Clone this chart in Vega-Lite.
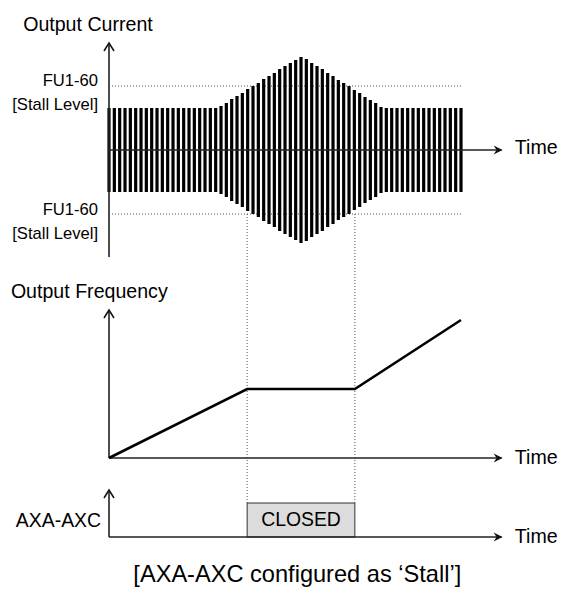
{
  "$schema": "https://vega.github.io/schema/vega-lite/v6.json",
  "width": 561,
  "height": 592,
  "autosize": {"type": "fit", "contains": "padding"},
  "padding": 0,
  "background": "white",
  "config": {"view": {"stroke": null}, "text": {"font": "Liberation Sans"}},
  "datasets": {
    "bars": [
      {"t":0,"hi":108,"lo":192},{"t":1,"hi":108,"lo":192},{"t":2,"hi":108,"lo":192},{"t":3,"hi":108,"lo":192},{"t":4,"hi":108,"lo":192},
      {"t":5,"hi":108,"lo":192},{"t":6,"hi":108,"lo":192},{"t":7,"hi":108,"lo":192},{"t":8,"hi":108,"lo":192},{"t":9,"hi":108,"lo":192},
      {"t":10,"hi":108,"lo":192},{"t":11,"hi":108,"lo":192},{"t":12,"hi":108,"lo":192},{"t":13,"hi":108,"lo":192},{"t":14,"hi":108,"lo":192},
      {"t":15,"hi":108,"lo":192},{"t":16,"hi":108,"lo":192},{"t":17,"hi":108,"lo":192},{"t":18,"hi":108,"lo":192},{"t":19,"hi":108,"lo":192},
      {"t":20,"hi":108,"lo":192},{"t":21,"hi":106,"lo":194},{"t":22,"hi":103,"lo":197},{"t":23,"hi":99,"lo":201},{"t":24,"hi":96,"lo":204},
      {"t":25,"hi":93,"lo":207},{"t":26,"hi":89,"lo":211},{"t":27,"hi":86,"lo":214},{"t":28,"hi":83,"lo":217},{"t":29,"hi":79,"lo":221},
      {"t":30,"hi":76,"lo":224},{"t":31,"hi":73,"lo":227},{"t":32,"hi":69,"lo":231},{"t":33,"hi":66,"lo":234},{"t":34,"hi":63,"lo":237},
      {"t":35,"hi":60,"lo":240},{"t":36,"hi":57,"lo":243},{"t":37,"hi":59,"lo":241},{"t":38,"hi":63,"lo":237},{"t":39,"hi":66,"lo":234},
      {"t":40,"hi":69,"lo":231},{"t":41,"hi":73,"lo":227},{"t":42,"hi":76,"lo":224},{"t":43,"hi":80,"lo":220},{"t":44,"hi":83,"lo":217},
      {"t":45,"hi":86,"lo":214},{"t":46,"hi":90,"lo":210},{"t":47,"hi":93,"lo":207},{"t":48,"hi":97,"lo":203},{"t":49,"hi":100,"lo":200},
      {"t":50,"hi":103,"lo":197},{"t":51,"hi":107,"lo":193},{"t":52,"hi":108,"lo":192},{"t":53,"hi":108,"lo":192},{"t":54,"hi":108,"lo":192},
      {"t":55,"hi":108,"lo":192},{"t":56,"hi":108,"lo":192},{"t":57,"hi":108,"lo":192},{"t":58,"hi":108,"lo":192},{"t":59,"hi":108,"lo":192},
      {"t":60,"hi":108,"lo":192},{"t":61,"hi":108,"lo":192},{"t":62,"hi":108,"lo":192},{"t":63,"hi":108,"lo":192},{"t":64,"hi":108,"lo":192},
      {"t":65,"hi":108,"lo":192},{"t":66,"hi":108,"lo":192}
    ],
    "dotted": [
      {"t1":0,"y1":86,"t2":66.2,"y2":86},
      {"t1":0,"y1":214,"t2":66.2,"y2":214},
      {"t1":25.9,"y1":214,"t2":25.9,"y2":503},
      {"t1":46.1,"y1":214,"t2":46.1,"y2":503}
    ],
    "axes": [
      {"t1":0,"y1":45,"t2":0,"y2":257},
      {"t1":0,"y1":150,"t2":73.6,"y2":150},
      {"t1":0,"y1":312,"t2":0,"y2":458},
      {"t1":0,"y1":458,"t2":73.6,"y2":458},
      {"t1":0,"y1":492,"t2":0,"y2":537},
      {"t1":0,"y1":537,"t2":73.6,"y2":537}
    ],
    "freq": [
      {"t":0,"f":458},{"t":25.9,"f":389},{"t":46.1,"f":389},{"t":66,"f":320}
    ],
    "box": [{"t1":25.9,"t2":46.1,"y1":503,"y2":537}],
    "uparrows": [{"t":0,"y":43},{"t":0,"y":310},{"t":0,"y":490}],
    "rightarrows": [{"t":73.8,"y":150},{"t":73.8,"y":458},{"t":73.8,"y":537}],
    "leftText": [
      {"label":"Output Current","t":-16.1,"y":31},
      {"label":"Output Frequency","t":-18.4,"y":298},
      {"label":"Time","t":76.1,"y":154},
      {"label":"Time","t":76.1,"y":464},
      {"label":"Time","t":76.1,"y":543}
    ],
    "stallText": [
      {"label":"FU1-60","t":-2.06,"y":86},
      {"label":"[Stall Level]","t":-2.06,"y":110},
      {"label":"FU1-60","t":-2.06,"y":215},
      {"label":"[Stall Level]","t":-2.06,"y":239}
    ],
    "axaText": [{"label":"AXA-AXC","t":-1.5,"y":527}],
    "closedText": [{"label":"CLOSED","t":36,"y":526}],
    "caption": [{"label":"[AXA-AXC configured as ‘Stall’]","t":35.3,"y":582}]
  },
  "layer": [
    {
      "data": {"name": "dotted"},
      "mark": {"type": "rule", "strokeDash": [1, 2], "color": "#555", "strokeWidth": 1},
      "encoding": {
        "x": {"field": "t1", "type": "quantitative", "scale": {"domain": [-20.44, 84.75], "nice": false, "zero": false}, "axis": null},
        "y": {"field": "y1", "type": "quantitative", "scale": {"domain": [0, 592], "reverse": true, "nice": false, "zero": false}, "axis": null},
        "x2": {"field": "t2"},
        "y2": {"field": "y2"}
      }
    },
    {
      "data": {"name": "bars"},
      "mark": {"type": "rule", "color": "black", "strokeWidth": 3.2},
      "encoding": {
        "x": {"field": "t", "type": "quantitative"},
        "y": {"field": "hi", "type": "quantitative"},
        "y2": {"field": "lo"}
      }
    },
    {
      "data": {"name": "box"},
      "mark": {"type": "rect", "fill": "#dcdcdc", "stroke": "#333", "strokeWidth": 1},
      "encoding": {
        "x": {"field": "t1", "type": "quantitative"},
        "x2": {"field": "t2"},
        "y": {"field": "y1", "type": "quantitative"},
        "y2": {"field": "y2"}
      }
    },
    {
      "data": {"name": "axes"},
      "mark": {"type": "rule", "color": "#222", "strokeWidth": 1.6},
      "encoding": {
        "x": {"field": "t1", "type": "quantitative"},
        "y": {"field": "y1", "type": "quantitative"},
        "x2": {"field": "t2"},
        "y2": {"field": "y2"}
      }
    },
    {
      "data": {"name": "freq"},
      "mark": {"type": "line", "color": "black", "strokeWidth": 2.6},
      "encoding": {
        "x": {"field": "t", "type": "quantitative"},
        "y": {"field": "f", "type": "quantitative"}
      }
    },
    {
      "data": {"name": "uparrows"},
      "mark": {"type": "point", "shape": "M-1,1.6L0,0L1,1.6", "size": 100, "filled": false, "stroke": "#111", "strokeWidth": 1.5, "opacity": 1},
      "encoding": {
        "x": {"field": "t", "type": "quantitative"},
        "y": {"field": "y", "type": "quantitative"}
      }
    },
    {
      "data": {"name": "rightarrows"},
      "mark": {"type": "point", "shape": "M-1.8,-0.9L0,0L-1.8,0.9L-1.2,0Z", "size": 100, "filled": true, "fill": "#111", "opacity": 1},
      "encoding": {
        "x": {"field": "t", "type": "quantitative"},
        "y": {"field": "y", "type": "quantitative"}
      }
    },
    {
      "data": {"name": "leftText"},
      "mark": {"type": "text", "align": "left", "baseline": "alphabetic", "fontSize": 19.6, "color": "black"},
      "encoding": {
        "x": {"field": "t", "type": "quantitative"},
        "y": {"field": "y", "type": "quantitative"},
        "text": {"field": "label"}
      }
    },
    {
      "data": {"name": "stallText"},
      "mark": {"type": "text", "align": "right", "baseline": "alphabetic", "fontSize": 16.6, "color": "black"},
      "encoding": {
        "x": {"field": "t", "type": "quantitative"},
        "y": {"field": "y", "type": "quantitative"},
        "text": {"field": "label"}
      }
    },
    {
      "data": {"name": "axaText"},
      "mark": {"type": "text", "align": "right", "baseline": "alphabetic", "fontSize": 19.4, "color": "black"},
      "encoding": {
        "x": {"field": "t", "type": "quantitative"},
        "y": {"field": "y", "type": "quantitative"},
        "text": {"field": "label"}
      }
    },
    {
      "data": {"name": "closedText"},
      "mark": {"type": "text", "align": "center", "baseline": "alphabetic", "fontSize": 19.4, "color": "black"},
      "encoding": {
        "x": {"field": "t", "type": "quantitative"},
        "y": {"field": "y", "type": "quantitative"},
        "text": {"field": "label"}
      }
    },
    {
      "data": {"name": "caption"},
      "mark": {"type": "text", "align": "center", "baseline": "alphabetic", "fontSize": 23.6, "color": "black"},
      "encoding": {
        "x": {"field": "t", "type": "quantitative"},
        "y": {"field": "y", "type": "quantitative"},
        "text": {"field": "label"}
      }
    }
  ]
}
